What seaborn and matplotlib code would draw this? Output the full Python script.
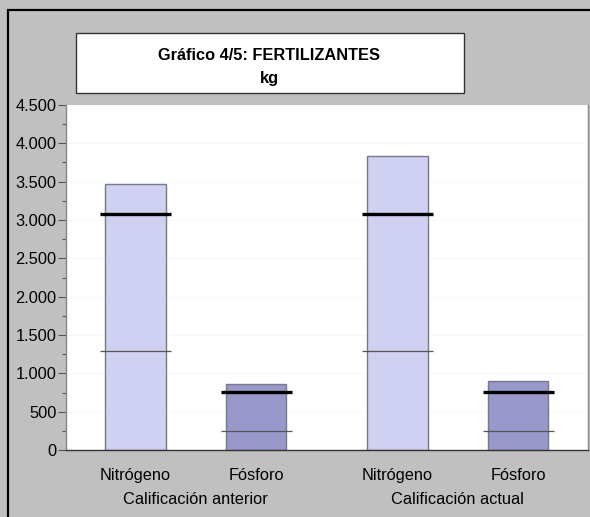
import matplotlib
matplotlib.use("Agg")
import matplotlib.pyplot as plt
import matplotlib.ticker as mticker
from matplotlib.patches import Rectangle
import seaborn as sns
import pandas as pd

# ---- data ----
groups = ["Calificación anterior", "Calificación actual"]
nutrients = ["Nitrógeno", "Fósforo"]
values = [3470, 860, 3840, 900]          # bars: anterior N, P ; actual N, P
upper_ref = [3080, 760, 3080, 760]       # thick reference lines
lower_ref = [1290, 250, 1290, 250]       # thin reference lines
yticks = [0, 500, 1000, 1500, 2000, 2500, 3000, 3500, 4000, 4500]

# ---- layout ----
positions = [0.0, 1.0, 2.17, 3.17]
bar_colors = {"Nitrógeno": "#D0D0F2", "Fósforo": "#9898CA"}

df = pd.DataFrame({
    "pos": positions,
    "value": values,
    "nutrient": nutrients * 2,
    "group": [g for g in groups for _ in nutrients],
})

sns.set_theme(style="white")
plt.rcParams["font.family"] = ["Liberation Sans", "DejaVu Sans"]

fig = plt.figure(figsize=(5.9, 5.17), dpi=100)
fig.patch.set_facecolor("#C0C0C0")

W, H = 590, 517
# outer frame
fig.patches.append(Rectangle((8 / W, -0.1), 1.2, (H - 10) / H + 0.1, transform=fig.transFigure,
                             fill=False, edgecolor="#000000", linewidth=1.6, zorder=0))
# title box
fig.patches.append(Rectangle((76 / W, 1 - 93 / H), (464 - 76) / W, 60 / H, transform=fig.transFigure,
                             facecolor="white", edgecolor="#333333", linewidth=1.0, zorder=1))
fig.text(269 / W, 1 - 55 / H, "Gráfico 4/5: FERTILIZANTES", ha="center", va="center",
         fontsize=11.8, fontweight="bold", color="#000000")
fig.text(269 / W, 1 - 78 / H, "kg", ha="center", va="center",
         fontsize=11.8, fontweight="bold", color="#000000")

ax = fig.add_axes([66 / W, 1 - 450 / H, 522 / W, 345 / H])
ax.set_facecolor("white")

sns.barplot(data=df, x="pos", y="value", hue="nutrient", palette=bar_colors,
            native_scale=True, width=0.5, dodge=False, saturation=1,
            edgecolor="#787888", linewidth=1.0, legend=False, ax=ax, zorder=2)

half = 0.295
for p, u, l in zip(positions, upper_ref, lower_ref):
    ax.hlines(u, p - half, p + half, colors="#000000", linewidth=2.4, zorder=4)
    ax.hlines(l, p - half, p + half, colors="#555555", linewidth=0.9, zorder=4)

ax.set_xlim(-0.576, 3.749)
ax.set_ylim(0, 4500)
ax.set_yticks(yticks)
ax.set_yticklabels([f"{v:,}".replace(",", ".") for v in yticks], fontsize=11.8, color="#000000")
ax.yaxis.set_minor_locator(mticker.MultipleLocator(250))
ax.tick_params(axis="y", which="major", left=True, length=6, width=0.8, color="#555555", pad=1)
ax.tick_params(axis="y", which="minor", left=True, length=3, width=0.8, color="#555555")
ax.grid(axis="y", color="#F8F8F8", linewidth=0.8, zorder=0)
ax.set_axisbelow(True)

ax.set_xticks(positions)
ax.set_xticklabels(nutrients * 2, fontsize=11.8, color="#000000")
ax.tick_params(axis="x", bottom=False, pad=7)
ax.set_xlabel("")
ax.set_ylabel("")

for i, g in enumerate(groups):
    c = (positions[2 * i] + positions[2 * i + 1]) / 2
    ax.text(c, -0.143, g, transform=ax.get_xaxis_transform(), ha="center", va="center",
            fontsize=11.8, color="#000000")

for s in ["left", "right"]:
    ax.spines[s].set_color("#888888")
    ax.spines[s].set_linewidth(1.0)
ax.spines["top"].set_visible(False)
ax.spines["bottom"].set_color("#333333")
ax.spines["bottom"].set_linewidth(1.0)

fig.savefig("out.png", dpi=100, facecolor=fig.get_facecolor())
